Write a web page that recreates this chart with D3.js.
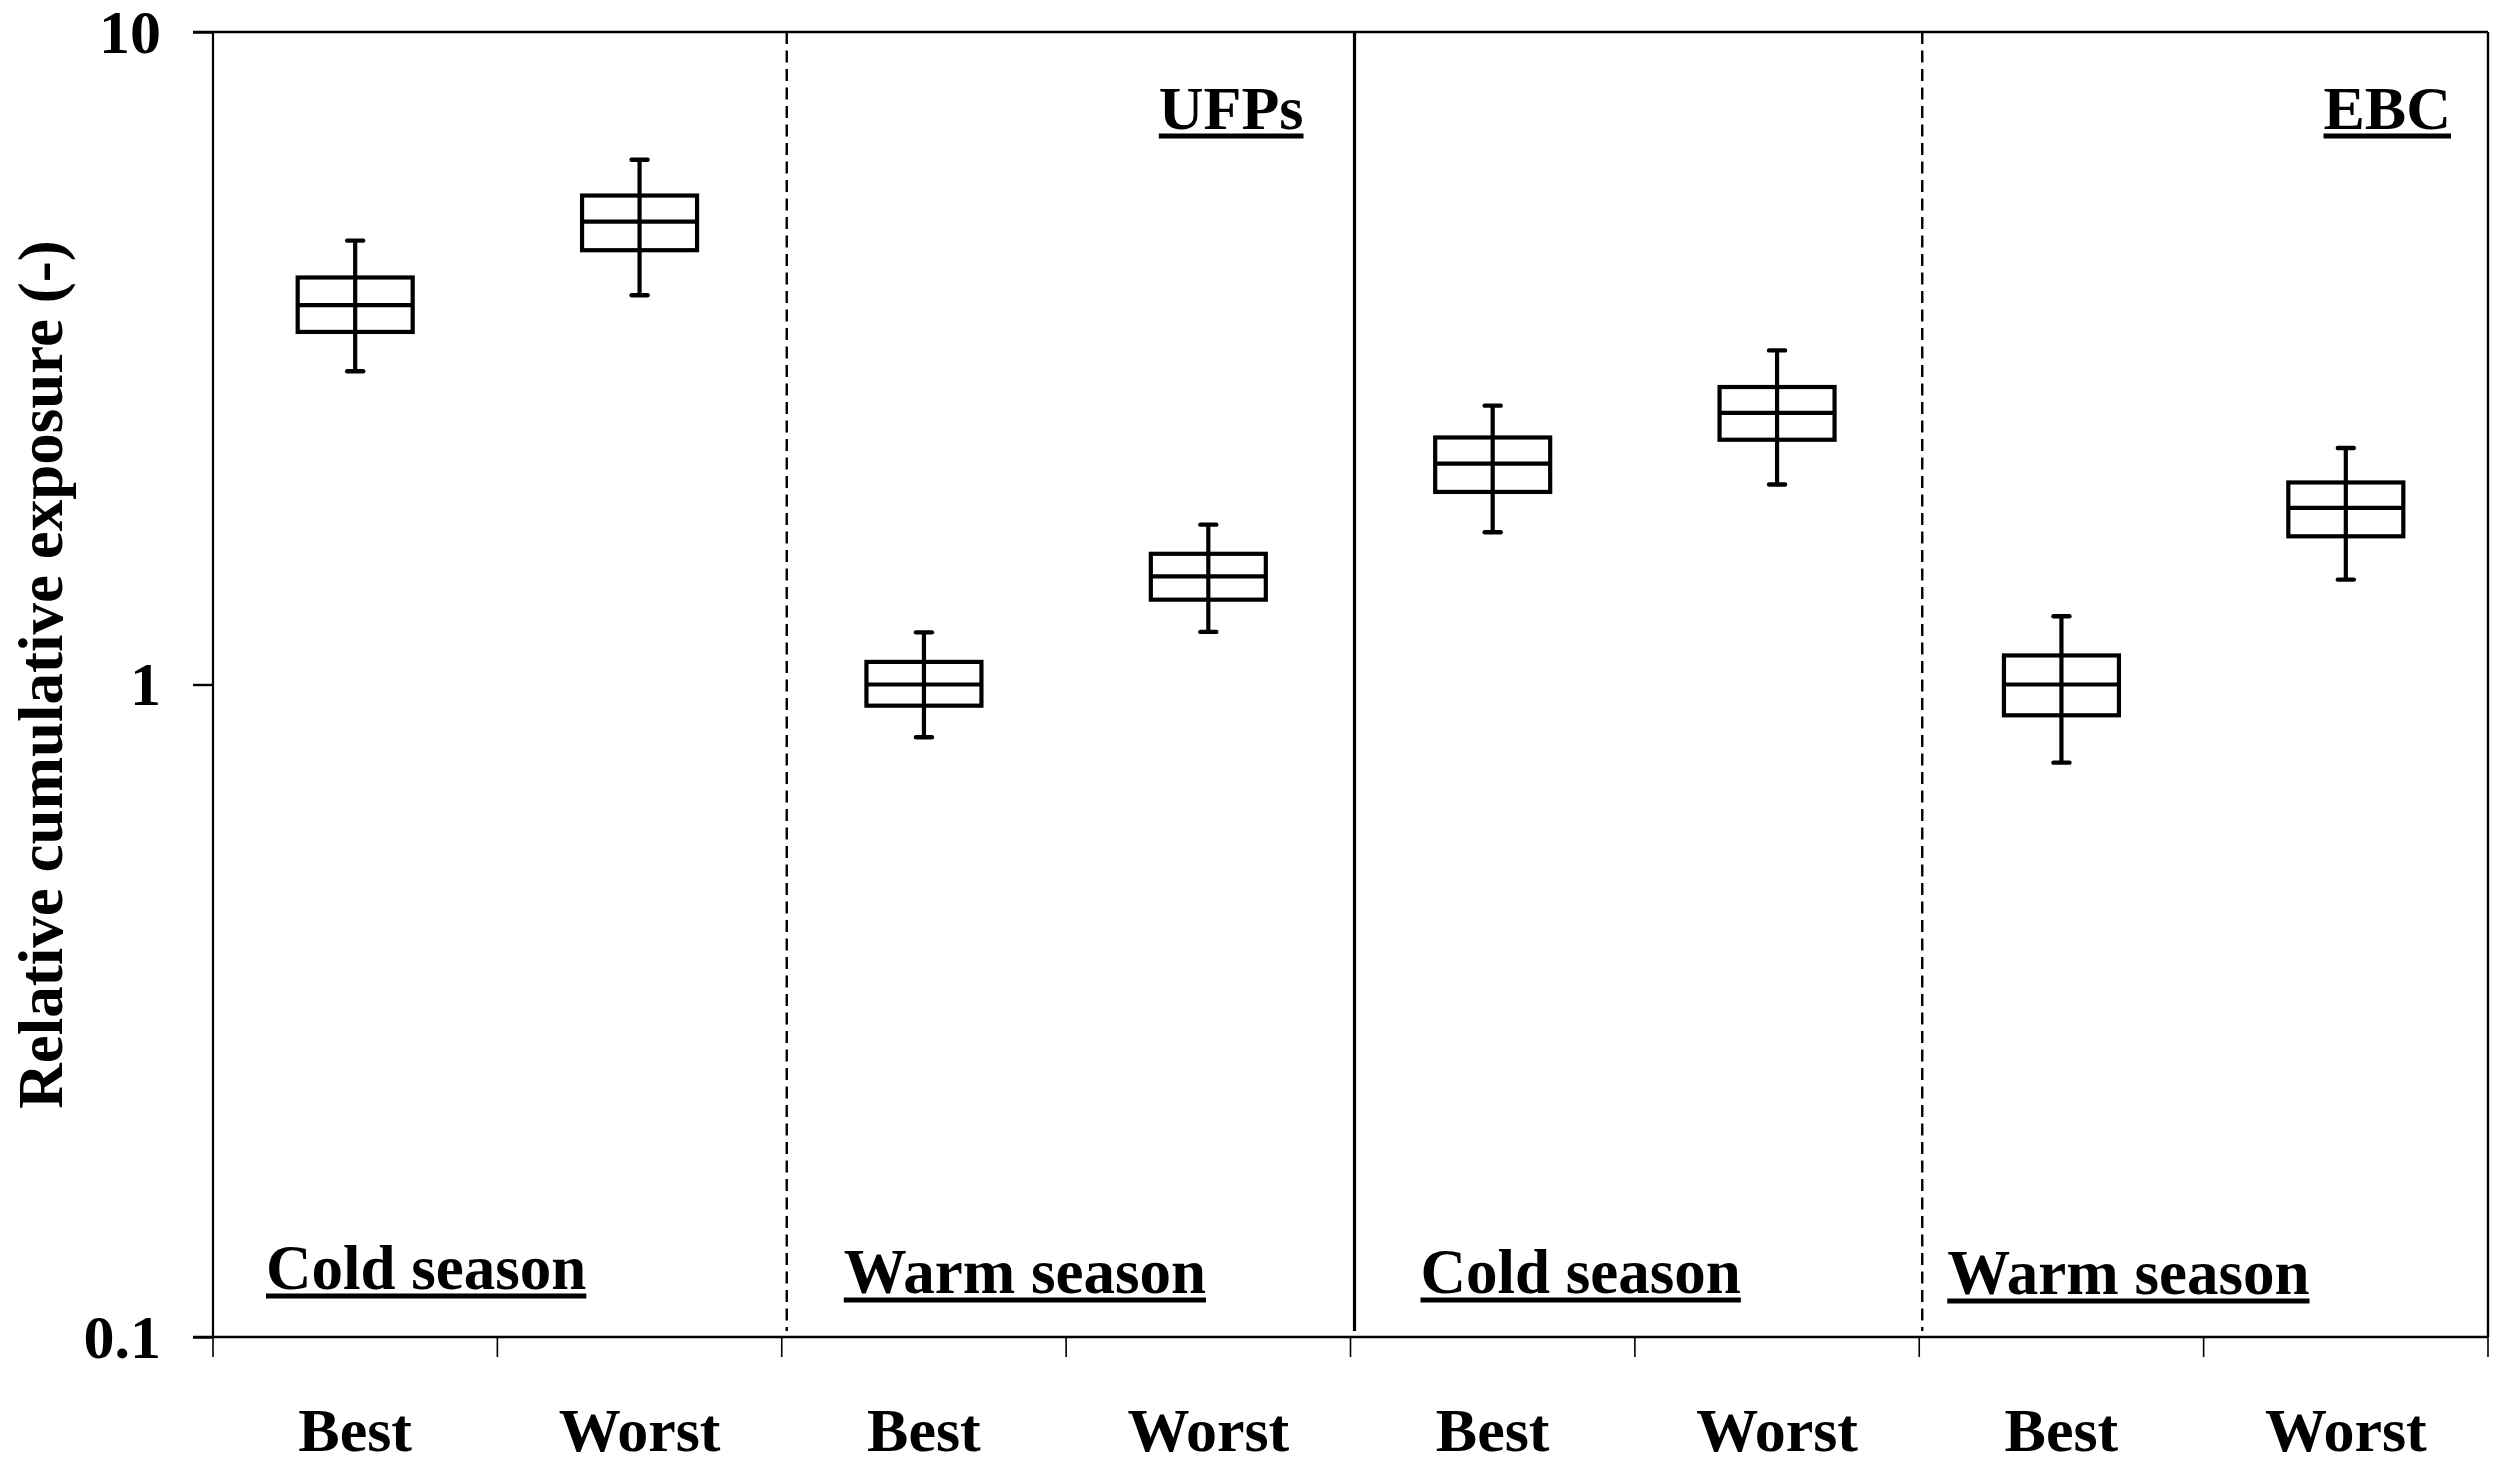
<!DOCTYPE html>
<html>
<head>
<meta charset="utf-8">
<script src="https://cdn.jsdelivr.net/npm/d3@7/dist/d3.min.js"></script>
<style>
  html, body { margin: 0; padding: 0; background: #fff; }
  svg { display: block; }
  text { font-family: "Liberation Serif", "Times New Roman", serif; font-weight: bold; fill: #000; }
</style>
</head>
<body>
<svg id="chart" width="2510" height="1473"></svg>
<script>
// ---- Data ----
const categories = [
  "UFPs Cold Best", "UFPs Cold Worst", "UFPs Warm Best", "UFPs Warm Worst",
  "EBC Cold Best", "EBC Cold Worst", "EBC Warm Best", "EBC Warm Worst"
];
const tickLabels = ["Best", "Worst", "Best", "Worst", "Best", "Worst", "Best", "Worst"];
const whiskerLow  = [3.02, 3.95, 0.830, 1.204, 1.711, 2.025, 0.759, 1.448];
const q1Values    = [3.47, 4.63, 0.928, 1.349, 1.973, 2.372, 0.897, 1.687];
const medianValues= [3.815, 5.12, 1.00, 1.465, 2.180, 2.607, 1.00, 1.865];
const q3Values    = [4.205, 5.615, 1.083, 1.586, 2.391, 2.857, 1.108, 2.040];
const whiskerHigh = [4.79, 6.37, 1.202, 1.758, 2.675, 3.251, 1.272, 2.304];
const yTickValues = [0.1, 1, 10];
const yTickLabels = ["0.1", "1", "10"];
const seasonLabels = ["Cold season", "Warm season", "Cold season", "Warm season"];
const pollutantLabels = ["UFPs", "EBC"];
const yAxisTitle = "Relative cumulative exposure (-)";

// ---- Layout ----
const W = 2510, H = 1473;
const m = { left: 213, right: 22, top: 32, bottom: 136 };
const plotR = W - m.right, plotB = H - m.bottom;

const svg = d3.select("#chart");
svg.append("rect").attr("width", W).attr("height", H).attr("fill", "#fff");

const x = d3.scaleBand().domain(categories).range([m.left, plotR]).padding(0);
const y = d3.scaleLog().domain([0.1, 10]).range([plotB, m.top]);

const rows = categories.map((c, i) => ({
  c, lo: whiskerLow[i], q1: q1Values[i], med: medianValues[i], q3: q3Values[i], hi: whiskerHigh[i]
}));

// Frame: top and right border
svg.append("line").attr("x1", m.left - 20).attr("x2", plotR).attr("y1", m.top).attr("y2", m.top)
  .attr("stroke", "#000").attr("stroke-width", 2.4);
svg.append("line").attr("x1", plotR).attr("x2", plotR).attr("y1", m.top).attr("y2", plotB)
  .attr("stroke", "#000").attr("stroke-width", 2.4);

// Y axis
const yAxis = d3.axisLeft(y).tickValues(yTickValues)
  .tickFormat((d, i) => yTickLabels[i]).tickSize(20).tickPadding(32);
const gy = svg.append("g").attr("transform", `translate(${m.left},0)`).call(yAxis);
gy.select(".domain").attr("stroke", "#000").attr("stroke-width", 2.2).attr("d", `M0,${m.top}V${plotB}`);
gy.selectAll(".tick line").attr("stroke", "#000").attr("stroke-width", 2.4);
gy.selectAll(".tick text").attr("font-size", 62).attr("dy", "0.33em")
  .style("font-family", "'Liberation Serif', serif").style("font-weight", "bold").attr("fill", "#000");

// X axis (bottom line + boundary ticks + category labels)
const xAxis = d3.axisBottom(x).tickSize(0).tickPadding(0).tickFormat((d, i) => tickLabels[i]);
const gx = svg.append("g").attr("transform", `translate(0,${plotB})`).call(xAxis);
gx.select(".domain").attr("stroke", "#000").attr("stroke-width", 2.4).attr("d", `M${m.left - 20},0H${plotR}`);
gx.selectAll(".tick text").attr("font-size", 62).attr("y", 114).attr("dy", 0)
  .style("font-family", "'Liberation Serif', serif").style("font-weight", "bold").attr("fill", "#000");
const boundaries = categories.map(c => x(c)).concat([plotR]);
gx.selectAll(".bound").data(boundaries).enter().append("line")
  .attr("x1", d => d).attr("x2", d => d).attr("y1", 0).attr("y2", 20)
  .attr("stroke", "#000").attr("stroke-width", 1.6);

// Separators between season groups
const sepLines = [
  { x: x(categories[2]) + 5, dash: "12,6.5", w: 2.4 },
  { x: x(categories[4]) + 4, dash: null, w: 3.2 },
  { x: x(categories[6]) + 3, dash: "12,6.5", w: 2.4 }
];
sepLines.forEach(s => {
  const l = svg.append("line").attr("x1", s.x).attr("x2", s.x).attr("y1", m.top).attr("y2", plotB - 6)
    .attr("stroke", "#000").attr("stroke-width", s.w);
  if (s.dash) l.attr("stroke-dasharray", s.dash);
});

// Box plots
const boxW = 115, capHalf = 8, sw = 4.2;
const g = svg.append("g");
const bx = g.selectAll(".box").data(rows).enter().append("g")
  .attr("transform", d => `translate(${x(d.c) + x.bandwidth() / 2},0)`);
bx.append("line").attr("x1", 0).attr("x2", 0).attr("y1", d => y(d.lo)).attr("y2", d => y(d.hi))
  .attr("stroke", "#000").attr("stroke-width", 4.2);
bx.append("line").attr("x1", -capHalf).attr("x2", capHalf).attr("y1", d => y(d.lo)).attr("y2", d => y(d.lo))
  .attr("stroke", "#000").attr("stroke-width", 4.4).attr("stroke-linecap", "round");
bx.append("line").attr("x1", -capHalf).attr("x2", capHalf).attr("y1", d => y(d.hi)).attr("y2", d => y(d.hi))
  .attr("stroke", "#000").attr("stroke-width", 4.4).attr("stroke-linecap", "round");
bx.append("rect").attr("x", -boxW / 2).attr("width", boxW)
  .attr("y", d => y(d.q3)).attr("height", d => y(d.q1) - y(d.q3))
  .attr("fill", "none").attr("stroke", "#000").attr("stroke-width", sw);
bx.append("line").attr("x1", -boxW / 2).attr("x2", boxW / 2).attr("y1", d => y(d.med)).attr("y2", d => y(d.med))
  .attr("stroke", "#000").attr("stroke-width", sw);

// Underlined label helper
function ulabel(txt, px, py, anchor, fs) {
  const t = svg.append("text").attr("x", px).attr("y", py).attr("font-size", fs)
    .attr("text-anchor", anchor).text(txt);
  const len = t.node().getComputedTextLength();
  const x0 = anchor === "end" ? px - len : px;
  svg.append("rect").attr("x", x0).attr("y", py + 4.5).attr("width", len).attr("height", 5).attr("fill", "#000");
}

// Season labels (positioned relative to each group's first band)
const seasonPos = [
  { cat: 0, dx: 53, y: 1289 },
  { cat: 2, dx: 62, y: 1293 },
  { cat: 4, dx: 70, y: 1293 },
  { cat: 6, dx: 28, y: 1294 }
];
seasonPos.forEach((p, i) => ulabel(seasonLabels[i], x(categories[p.cat]) + p.dx, p.y, "start", 63));

// Pollutant labels (right-aligned in each pollutant block)
ulabel(pollutantLabels[0], x(categories[4]) - 47, 129, "end", 62);
ulabel(pollutantLabels[1], plotR - 37, 129, "end", 62);

// Y-axis title
svg.append("text").attr("transform", `translate(62,${(m.top + plotB) / 2 - 10}) rotate(-90)`)
  .attr("text-anchor", "middle").attr("font-size", 63).text(yAxisTitle);
</script>
</body>
</html>
